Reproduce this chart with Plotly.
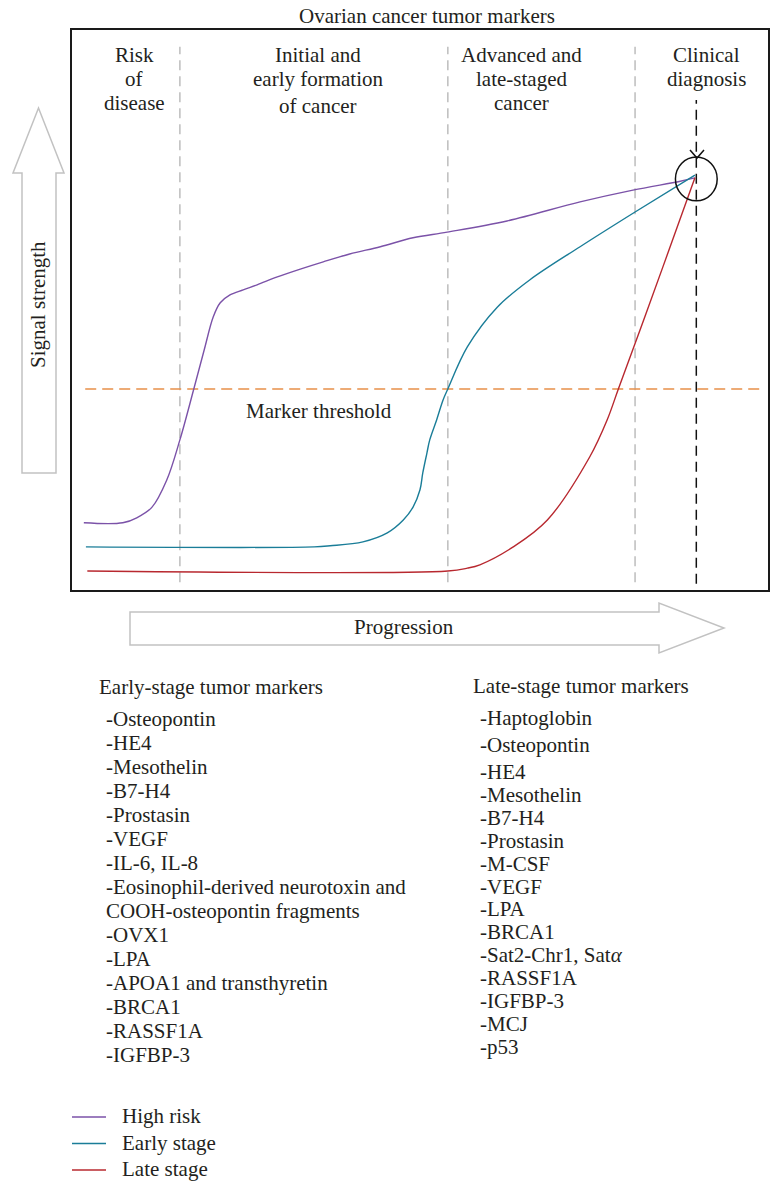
import plotly.graph_objects as go

W, H = 770, 1185

# ---------------- data (progression %, signal strength %) ----------------
high_risk_x = [1.7, 7.3, 9.3, 11.5, 13.6, 15.5, 17.5, 19.0, 20.3, 21.3, 22.7, 24.6, 26.6, 29.5,
               32.8, 36.1, 39.9, 44.3, 49.0, 53.9, 62.5, 73.0, 80.6, 87.4, 89.5]
high_risk_y = [12.0, 12.0, 12.9, 14.8, 19.6, 26.8, 35.9, 42.9, 48.8, 51.3, 52.7, 53.6, 54.5, 55.9,
               57.3, 58.6, 60.0, 61.3, 62.9, 63.9, 65.9, 69.3, 71.4, 73.0, 73.6]

early_x = [2.0, 34.8, 37.1, 41.8, 45.3, 47.6, 49.0, 50.0, 50.4, 51.0, 51.4, 52.4, 53.3, 54.0,
           56.8, 61.1, 65.8, 73.0, 80.9, 89.5]
early_y = [7.7, 7.7, 7.9, 8.6, 10.2, 12.5, 14.8, 17.9, 20.9, 24.5, 26.8, 30.4, 33.9, 35.9,
           43.4, 50.5, 55.4, 61.3, 67.5, 74.1]

late_x = [2.2, 54.0, 56.8, 58.6, 63.4, 68.3, 74.4, 76.9, 78.5, 81.6, 84.9, 89.5]
late_y = [3.4, 3.4, 3.9, 4.5, 7.7, 12.5, 23.8, 30.4, 35.9, 46.4, 57.7, 73.6]

series_names = ["High risk", "Early stage", "Late stage"]
threshold = 35.9
phase_bounds = [15.5, 54.0, 80.9]
diagnosis_x = 89.7
diagnosis_y = 73.4

stage_labels = [["Risk", "of", "disease"],
                ["Initial and", "early formation", "of cancer"],
                ["Advanced and", "late-staged", "cancer"],
                ["Clinical", "diagnosis"]]

early_header = "Early-stage tumor markers"
early_markers = ["-Osteopontin", "-HE4", "-Mesothelin", "-B7-H4", "-Prostasin", "-VEGF",
                 "-IL-6, IL-8", "-Eosinophil-derived neurotoxin and",
                 "COOH-osteopontin fragments", "-OVX1", "-LPA",
                 "-APOA1 and transthyretin", "-BRCA1", "-RASSF1A", "-IGFBP-3"]
late_header = "Late-stage tumor markers"
late_markers = ["-Haptoglobin", "-Osteopontin", "-HE4", "-Mesothelin", "-B7-H4",
                "-Prostasin", "-M-CSF", "-VEGF", "-LPA", "-BRCA1",
                "-Sat2-Chr1, Sat<i>α</i>", "-RASSF1A", "-IGFBP-3", "-MCJ", "-p53"]

# ---------------- layout helpers ----------------
FONT = "Liberation Serif"
FS = 21
TXT = "#231f20"
def P(px):  # pixel x -> paper
    return px / W
def Q(py):  # pixel y -> paper
    return 1 - py / H

BOX_L, BOX_R, BOX_T, BOX_B = 72, 768, 30, 590
colors = ["#7b52a8", "#1a7d98", "#b8282f"]

fig = go.Figure()
for name, xs, ys, c in zip(series_names, [high_risk_x, early_x, late_x],
                           [high_risk_y, early_y, late_y], colors):
    fig.add_trace(go.Scatter(x=xs, y=ys, mode="lines", name=name, showlegend=False,
                             line=dict(color=c, width=1.4, shape="spline", smoothing=1.0),
                             hoverinfo="skip"))

shapes = []
for xb in phase_bounds:
    shapes.append(dict(type="line", xref="x", yref="y", x0=xb, x1=xb, y0=1.4, y1=97.0,
                       line=dict(color="#bdbdbd", width=1.5, dash="10px,6px"), layer="below"))
shapes.append(dict(type="line", xref="x", yref="y", x0=diagnosis_x, x1=diagnosis_x, y0=1.1, y1=87.5,
                   line=dict(color="#111111", width=1.5, dash="10px,6px"), layer="below"))
shapes.append(dict(type="line", xref="x", yref="y", x0=1.9, x1=99.1, y0=threshold, y1=threshold,
                   line=dict(color="#e8904a", width=1.5, dash="11px,6px"), layer="below"))
shapes.append(dict(type="circle", xref="x", yref="y", x0=diagnosis_x - 3.0, x1=diagnosis_x + 3.0,
                   y0=diagnosis_y - 3.9, y1=diagnosis_y + 3.9, line=dict(color="#111111", width=1.5)))
shapes.append(dict(type="path", xref="paper", yref="paper",
                   path=f"M{P(690)},{Q(150)} L{P(697)},{Q(158)} L{P(704)},{Q(150)}",
                   line=dict(color="#111111", width=1.5)))
va = [(22, 473), (22, 173), (13, 173), (38.5, 108), (64, 173), (56, 173), (56, 473)]
shapes.append(dict(type="path", xref="paper", yref="paper",
                   path="M" + " L".join(f"{P(a)},{Q(b)}" for a, b in va) + " Z",
                   line=dict(color="#c2c2c2", width=1.5), fillcolor="white"))
ha = [(130, 612), (659, 612), (659, 603), (724, 628), (659, 653), (659, 645), (130, 645)]
shapes.append(dict(type="path", xref="paper", yref="paper",
                   path="M" + " L".join(f"{P(a)},{Q(b)}" for a, b in ha) + " Z",
                   line=dict(color="#c2c2c2", width=1.5), fillcolor="white"))

annotations = []
def txt(x, y, s, xanchor="center", size=FS, angle=0):
    annotations.append(dict(xref="paper", yref="paper", x=P(x), y=Q(y), text=s,
                            showarrow=False, xanchor=xanchor, yanchor="middle",
                            textangle=angle, font=dict(family=FONT, size=size, color=TXT)))

txt(427, 16, "Ovarian cancer tumor markers")
stage_cx = [134, 318, 521, 706]
for cx, lines in zip(stage_cx, stage_labels):
    for i, s in enumerate(lines):
        txt(cx, 55 + 24 * i + (3 if i == 2 and cx == 318 else 0), s)
txt(319, 411, "Marker threshold")
txt(38, 305, "Signal strength", angle=-90)
txt(404, 627, "Progression")

txt(97, 687, early_header, xanchor="left")
for i, s in enumerate(early_markers):
    txt(104, 719 + 24 * i, s, xanchor="left")
txt(471, 686, late_header, xanchor="left")
for i, s in enumerate(late_markers):
    txt(478, 718 + 27 * min(i, 2) + 22.9 * max(i - 2, 0), s, xanchor="left")

# legend keys
for i, (name, c) in enumerate(zip(series_names, colors)):
    yk = 1117 + 26.5 * i
    shapes.append(dict(type="line", xref="paper", yref="paper", x0=P(72), x1=P(106),
                       y0=Q(yk), y1=Q(yk), line=dict(color=c, width=1.5)))
    txt(120, yk - 1, name, xanchor="left")

fig.update_layout(
    width=W, height=H, margin=dict(l=0, r=0, t=0, b=0),
    paper_bgcolor="white", plot_bgcolor="white",
    shapes=shapes, annotations=annotations, showlegend=False,
    xaxis=dict(domain=[P(BOX_L), P(BOX_R)], range=[0, 100], showgrid=False, zeroline=False,
               showticklabels=False, ticks="", showline=True, mirror=True,
               linecolor="#1a1a1a", linewidth=2, fixedrange=True),
    yaxis=dict(domain=[Q(BOX_B), Q(BOX_T)], range=[0, 100], showgrid=False, zeroline=False,
               showticklabels=False, ticks="", showline=True, mirror=True,
               linecolor="#1a1a1a", linewidth=2, fixedrange=True),
)

fig.write_html("out.html", config={"displayModeBar": False},
               post_script="document.body.style.margin='0px';")
